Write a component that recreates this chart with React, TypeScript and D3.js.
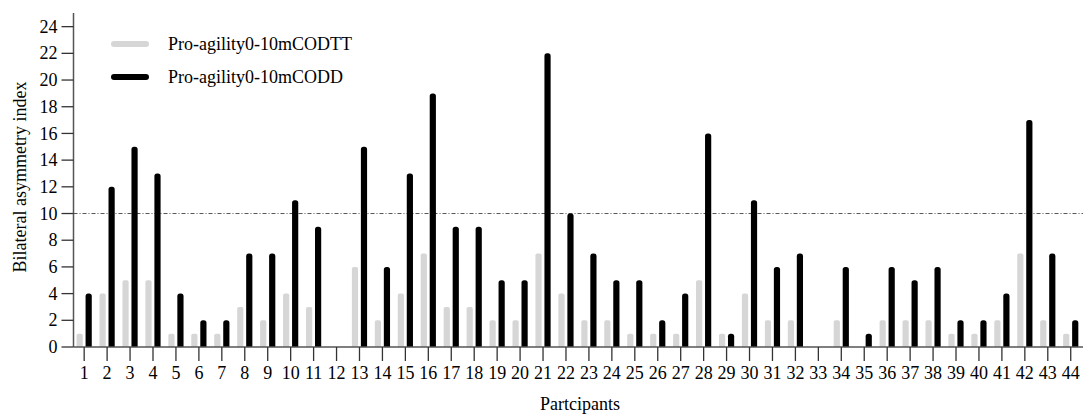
import * as d3 from "d3";
import { useEffect, useRef } from "react";

const participants = d3.range(1, 45).map(String);
const codtt = [1, 4, 5, 5, 1, 1, 1, 3, 2, 4, 3, 0, 6, 2, 4, 7, 3, 3, 2, 2, 7, 4, 2, 2, 1, 1, 1, 5, 1, 4, 2, 2, 0, 2, 0, 2, 2, 2, 1, 1, 2, 7, 2, 1];
const codd = [4, 12, 15, 13, 4, 2, 2, 7, 7, 11, 9, 0, 15, 6, 13, 19, 9, 9, 5, 5, 22, 10, 7, 5, 5, 2, 4, 16, 1, 11, 6, 7, 0, 6, 1, 6, 5, 6, 2, 2, 4, 17, 7, 2];
const yTicks = d3.range(0, 25, 2);
const threshold = 10;
const seriesNames = ["Pro-agility0-10mCODTT", "Pro-agility0-10mCODD"];
const seriesColors = ["#d6d6d6", "#000000"];

const W = 1086;
const H = 416;
const font = "'Liberation Serif', 'Times New Roman', serif";

// bar with rounded top corners only
function barPath(x: number, w: number, yTop: number, yBase: number, r: number) {
  const rr = Math.min(r, w / 2, (yBase - yTop) / 2);
  return `M${x},${yBase}V${yTop + rr}Q${x},${yTop} ${x + rr},${yTop}H${x + w - rr}Q${x + w},${yTop} ${x + w},${yTop + rr}V${yBase}Z`;
}

export default function App() {
  const svgRef = useRef<SVGSVGElement>(null);

  useEffect(() => {
    const svg = d3.select(svgRef.current);
    svg.selectAll("*").remove();

    const x0 = 73.5, x1 = 1083;
    const xScale = d3.scaleBand().domain(participants).range([x0, x1]).padding(0);
    const yScale = d3.scaleLinear().domain([0, 25]).range([347, 13.3]);
    const cx = (p: string) => (xScale(p) as number) + xScale.bandwidth() / 2 - 0.8;
    const axisColor = "#555";

    // threshold line
    svg.append("line")
      .attr("x1", x0).attr("x2", x1)
      .attr("y1", yScale(threshold)).attr("y2", yScale(threshold))
      .attr("stroke", "#555")
      .attr("stroke-width", 1)
      .attr("stroke-dasharray", "4,2,1,2");

    // bars
    const barW = 6.2;
    const series = [codtt, codd];
    const offsets = [-7.6, 1.4];
    series.forEach((vals, si) => {
      svg.append("g")
        .selectAll("path")
        .data(participants.map((p, i) => ({ p, v: vals[i] })).filter(d => d.v > 0))
        .enter()
        .append("path")
        .attr("d", d => barPath(cx(d.p) + offsets[si], barW, yScale(d.v), yScale(0), si === 0 ? 1.8 : 2.6))
        .attr("fill", seriesColors[si]);
    });

    // x axis
    const gx = svg.append("g").attr("transform", `translate(0, ${yScale(0)})`);
    gx.append("line").attr("x1", x0).attr("x2", x1).attr("stroke", axisColor).attr("stroke-width", 1.5);
    participants.forEach(p => {
      gx.append("line").attr("x1", cx(p)).attr("x2", cx(p)).attr("y1", 0).attr("y2", 14)
        .attr("stroke", "#333").attr("stroke-width", 1.3);
      gx.append("text").attr("x", cx(p)).attr("y", 32).attr("text-anchor", "middle")
        .attr("font-family", font).attr("font-size", 18).attr("fill", "#000").text(p);
    });

    // y axis
    const gy = svg.append("g");
    gy.append("line").attr("x1", x0).attr("x2", x0).attr("y1", 13).attr("y2", yScale(0))
      .attr("stroke", axisColor).attr("stroke-width", 1.5);
    yTicks.forEach(t => {
      gy.append("line").attr("x1", x0 - 12).attr("x2", x0).attr("y1", yScale(t)).attr("y2", yScale(t))
        .attr("stroke", "#333").attr("stroke-width", 1.3);
      gy.append("text").attr("x", x0 - 16).attr("y", yScale(t)).attr("dy", "0.34em")
        .attr("text-anchor", "end").attr("font-family", font).attr("font-size", 18).attr("fill", "#000")
        .text(t);
    });

    // axis titles
    svg.append("text").attr("x", 580).attr("y", 410).attr("text-anchor", "middle")
      .attr("font-family", font).attr("font-size", 18).text("Partcipants");
    svg.append("text").attr("transform", "translate(26, 177) rotate(-90)").attr("text-anchor", "middle")
      .attr("font-family", font).attr("font-size", 18).text("Bilateral asymmetry index");

    // legend
    const legendY = [44, 77];
    seriesNames.forEach((name, i) => {
      svg.append("line").attr("x1", 114).attr("x2", 146).attr("y1", legendY[i]).attr("y2", legendY[i])
        .attr("stroke", seriesColors[i]).attr("stroke-width", 6).attr("stroke-linecap", "round");
      svg.append("text").attr("x", 168).attr("y", legendY[i]).attr("dy", "0.34em")
        .attr("font-family", font).attr("font-size", 18).attr("fill", "#000").text(name);
    });
  }, []);

  return (
    <svg ref={svgRef} width={W} height={H} style={{ position: "absolute", left: 0, top: 0, background: "#fff" }} />
  );
}
